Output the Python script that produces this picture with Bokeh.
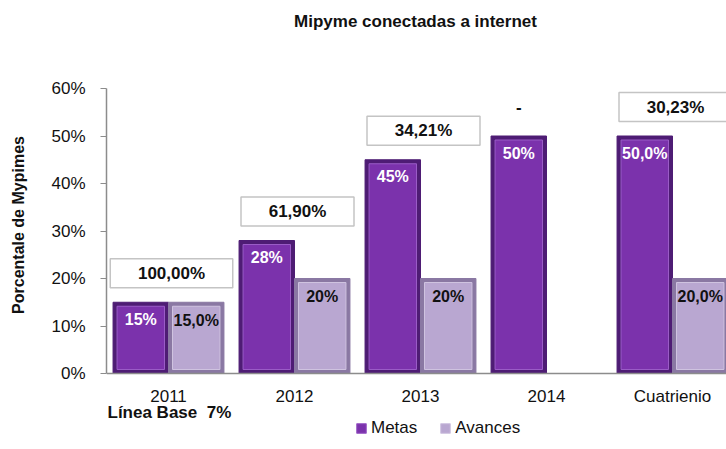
from bokeh.plotting import figure
from bokeh.models import (Range1d, FixedTicker, NumeralTickFormatter,
                          Legend, LegendItem, ColumnDataSource)
from bokeh.embed import file_html
from bokeh.resources import INLINE
from bokeh.core.properties import value

# ---- data ----
categories = ["2011", "2012", "2013", "2014", "Cuatrienio"]
metas = [0.15, 0.28, 0.45, 0.50, 0.50]
avances = [0.15, 0.20, 0.20, None, 0.20]
metas_labels = ["15%", "28%", "45%", "50%", "50,0%"]
avances_labels = ["15,0%", "20%", "20%", "", "20,0%"]
ratio_labels = ["100,00%", "61,90%", "34,21%", "-", "30,23%"]
y_ticks = [0.0, 0.1, 0.2, 0.3, 0.4, 0.5, 0.6]
title_text = "Mipyme conectadas a internet"
y_label = "Porcentale de Mypimes"
base_text = "Línea Base\u00a0 7%"

# ---- styling helpers ----
FONT = "Liberation Sans"
W, H = 726, 449
LEFT = 106                # frame left (px)
X0 = 168                  # px position of first category
PX_X = 1 / 126.0          # data units per px (x)
PX_Y = 0.6 / 285.0        # data units per px (y)
Y0 = 373                  # px position of 0%
BAR_W = 0.44
C_META, C_META_EDGE = "#7B32AC", "#4E1C74"
C_AVA, C_AVA_EDGE = "#B9A7D1", "#8A78A3"

idx = list(range(len(categories)))
nan = float("nan")
av_vals = [nan if v is None else v for v in avances]

INSET_X = 4 * PX_X
INSET_Y = 4 * PX_Y

src = ColumnDataSource(dict(
    x_m=[i - BAR_W / 2 for i in idx],
    x_a=[i + BAR_W / 2 for i in idx],
    metas=metas,
    avances=av_vals,
    metas_in=[m - INSET_Y for m in metas],
    avances_in=[v - INSET_Y for v in av_vals],
    y_mlab=[m - 17 * PX_Y for m in metas],
    y_alab=[v - 18 * PX_Y for v in av_vals],
    mlab=metas_labels,
    alab=avances_labels,
))

p = figure(width=W, height=H,
           x_range=Range1d((LEFT - X0) * PX_X, (W - X0) * PX_X),
           y_range=Range1d(-(H - Y0) * PX_Y, 0.6 + 88 * PX_Y),
           output_backend="svg", toolbar_location=None, title=None,
           min_border=0, min_border_left=LEFT)
p.outline_line_color = None
p.xgrid.visible = False
p.ygrid.visible = False
p.background_fill_color = "white"
p.border_fill_color = "white"

# axes
p.xaxis.fixed_location = 0
p.xaxis.ticker = FixedTicker(ticks=idx)
p.xaxis.major_label_overrides = {i: c for i, c in enumerate(categories)}
p.xaxis.major_tick_out = 0
p.xaxis.major_tick_in = 0
p.xaxis.minor_tick_out = 0
p.xaxis.minor_tick_in = 0
p.xaxis.axis_line_color = "#8C8C8C"
p.xaxis.axis_line_width = 1.5
p.xaxis.major_label_text_font = FONT
p.xaxis.major_label_text_font_size = "17px"
p.xaxis.major_label_text_color = "#111111"
p.xaxis.major_label_standoff = 13

p.yaxis.bounds = (0, 0.6)
p.yaxis.ticker = FixedTicker(ticks=y_ticks)
p.yaxis.formatter = NumeralTickFormatter(format="0%")
p.yaxis.major_tick_out = 6
p.yaxis.major_tick_in = 0
p.yaxis.minor_tick_out = 0
p.yaxis.minor_tick_in = 0
p.yaxis.axis_line_color = "#8C8C8C"
p.yaxis.major_tick_line_color = "#8C8C8C"
p.yaxis.axis_line_width = 1.5
p.yaxis.major_label_text_font = FONT
p.yaxis.major_label_text_font_size = "17px"
p.yaxis.major_label_text_color = "#111111"
p.yaxis.major_label_standoff = 15
p.yaxis.axis_label = y_label
p.yaxis.axis_label_text_font = FONT
p.yaxis.axis_label_text_font_size = "16px"
p.yaxis.axis_label_text_font_style = "bold"
p.yaxis.axis_label_text_color = "#111111"
p.yaxis.axis_label_standoff = 21

# bars (outer bevel + inner face)
p.vbar(x="x_m", top="metas", bottom=0, width=BAR_W, source=src,
       fill_color=C_META_EDGE, line_color=C_META_EDGE, line_width=1)
r_m = p.vbar(x="x_m", top="metas_in", bottom=INSET_Y, width=BAR_W - 2 * INSET_X,
             source=src, fill_color=C_META, line_color="#9A5CC6", line_width=1)
p.vbar(x="x_a", top="avances", bottom=0, width=BAR_W, source=src,
       fill_color=C_AVA_EDGE, line_color=C_AVA_EDGE, line_width=1)
r_a = p.vbar(x="x_a", top="avances_in", bottom=INSET_Y, width=BAR_W - 2 * INSET_X,
             source=src, fill_color=C_AVA, line_color="#CFC3E0", line_width=1)

# bar labels
p.text(x="x_m", y="y_mlab", text="mlab", source=src, text_color="white",
       text_font=value(FONT), text_font_style="bold", text_font_size="16px",
       text_align="center", text_baseline="middle")
p.text(x="x_a", y="y_alab", text="alab", source=src, text_color="#111111",
       text_font=value(FONT), text_font_style="bold", text_font_size="16px",
       text_align="center", text_baseline="middle")

# ratio boxes (a lone "-" sits over the Metas bar, without a box)
bx, by, bw = [], [], []
tx, ty = [], []
for i, (m, t) in enumerate(zip(metas, ratio_labels)):
    yc = m + 29 * PX_Y
    if t != "-":
        xc = i + 3 * PX_X
        bx.append(xc)
        by.append(yc)
        bw.append(9.5 * len(t) + 56)
    else:
        xc = i - BAR_W / 2
    tx.append(xc)
    ty.append(yc)
p.rect(x=bx, y=by, width=bw, height=29, width_units="screen", height_units="screen",
       fill_color="white", line_color="#C4C4C4", line_width=1.5)
p.text(x=tx, y=ty, text=ratio_labels, text_color="#111111", text_font=value(FONT),
       text_font_style="bold", text_font_size="17px",
       text_align="center", text_baseline="middle")

# title and base line note
p.text(x=[(415 - X0) * PX_X], y=[0.6 + (88 - 21) * PX_Y], text=[title_text],
       text_font=value(FONT), text_font_size="17px", text_font_style="bold",
       text_color="#111111", text_align="center", text_baseline="middle")
p.text(x=[(LEFT + 1 - X0) * PX_X], y=[-(412 - Y0) * PX_Y], text=[base_text],
       text_font=value(FONT), text_font_size="17px", text_font_style="bold",
       text_color="#111111", text_align="left", text_baseline="middle")

legend = Legend(items=[LegendItem(label="Metas", renderers=[r_m]),
                       LegendItem(label="Avances", renderers=[r_a])],
                orientation="horizontal", location=(355 - LEFT, H - 438),
                border_line_color=None, background_fill_alpha=0,
                padding=0, margin=0, spacing=22, label_standoff=4,
                glyph_width=12, glyph_height=12,
                label_text_font=FONT, label_text_font_size="17px",
                label_text_color="#111111")
p.add_layout(legend)

open("out.html", "w").write(file_html(p, INLINE))
